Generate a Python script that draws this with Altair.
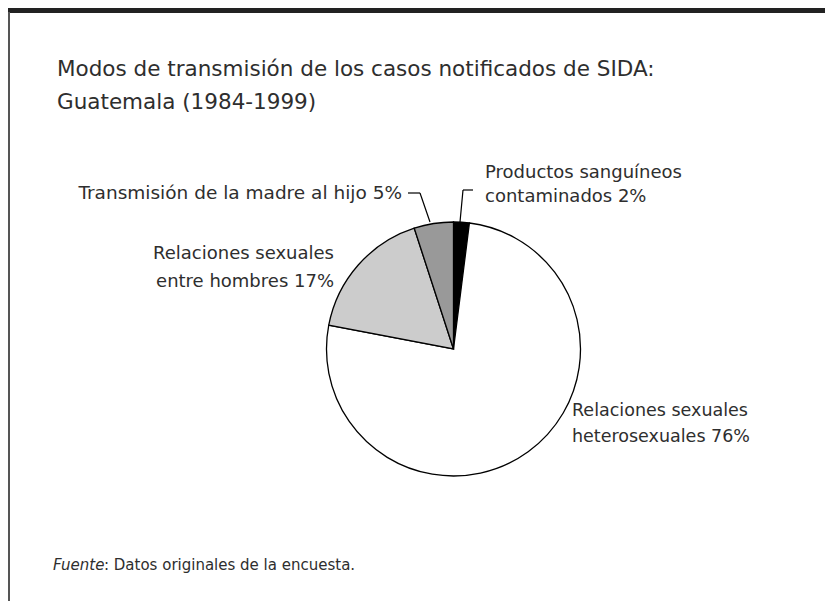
import altair as alt
import pandas as pd

# ---- data ----
categorias = [
    "Productos sanguíneos contaminados",
    "Relaciones sexuales heterosexuales",
    "Relaciones sexuales entre hombres",
    "Transmisión de la madre al hijo",
]
porcentajes = [2, 76, 17, 5]
orden = [1, 2, 3, 4]
etiquetas = [
    "Productos sanguíneos\ncontaminados 2%",
    "Relaciones sexuales\nheterosexuales 76%",
    "Relaciones sexuales\nentre hombres 17%",
    "Transmisión de la madre al hijo 5%",
]
titulo = ["Modos de transmisión de los casos notificados de SIDA:", "Guatemala (1984-1999)"]
fuente_it = "Fuente"
fuente_txt = ": Datos originales de la encuesta."

# styles (kept apart from data)
colores = ["#000000", "#ffffff", "#cccccc", "#999999"]
FONT = "DejaVu Sans"
TXT = "#2e2e2e"
W, H = 817, 593
CX, CY, R = 445.5, 341, 127

df = pd.DataFrame({"cat": categorias, "pct": porcentajes, "orden": orden, "label": etiquetas})

pie = alt.Chart(df).mark_arc(outerRadius=R, stroke="#000000", strokeWidth=1.3).encode(
    theta=alt.Theta("pct:Q", stack=True),
    order=alt.Order("orden:Q"),
    color=alt.Color("cat:N", scale=alt.Scale(domain=categorias, range=colores), legend=None),
    x=alt.value(CX),
    y=alt.value(CY),
)

def label(cat, x, y, align, lh=26, size=18):
    return alt.Chart(df).transform_filter(alt.datum.cat == cat).mark_text(
        align=align, baseline="middle", font=FONT, fontSize=size, color=TXT,
        lineBreak="\n", lineHeight=lh, x=x, y=y,
    ).encode(text="label:N")

labels = [
    label(categorias[0], 477, 165, "left", 24),
    label(categorias[1], 564, 403, "left", 26, 17.5),
    label(categorias[2], 326, 246, "right", 28),
    label(categorias[3], 394, 185, "right", 26, 18.5),
]

def seg(x1, y1, x2, y2, color="#000000", w=1.2):
    return alt.Chart(df).transform_filter(alt.datum.orden == 1).mark_rule(
        color=color, strokeWidth=w).encode(
        x=alt.value(x1), y=alt.value(y1), x2=alt.value(x2), y2=alt.value(y2))

leaders = [
    seg(400, 185, 412, 185), seg(412, 185, 422, 214),
    seg(452, 214, 455, 182), seg(455, 182, 465, 182),
]

def plain(text, x, y, size, italic=False):
    return alt.Chart(df).transform_filter(alt.datum.orden == 1).mark_text(
        align="left", baseline="middle", font=FONT, fontSize=size, color=TXT,
        fontStyle="italic" if italic else "normal", x=x, y=y, text=text,
    ).encode()

texts = [
    plain(titulo[0], 49, 62, 21.5),
    plain(titulo[1], 49, 95, 21.5),
    plain(fuente_it, 45, 557, 15, italic=True),
    plain(fuente_txt, 96, 557, 15),
]

frame = [
    alt.Chart(df).transform_filter(alt.datum.orden == 1).mark_rect(color="#222222").encode(
        x=alt.value(0), x2=alt.value(W), y=alt.value(0), y2=alt.value(5)),
    seg(1, 4, 1, H, color="#555555", w=2),
]

chart = alt.layer(*frame, pie, *leaders, *labels, *texts).properties(
    width=W, height=H, padding=0, autosize=alt.AutoSizeParams(type="none")
).configure_view(stroke=None)

chart.save("out.html", embed_options={"renderer": "svg", "actions": False})
